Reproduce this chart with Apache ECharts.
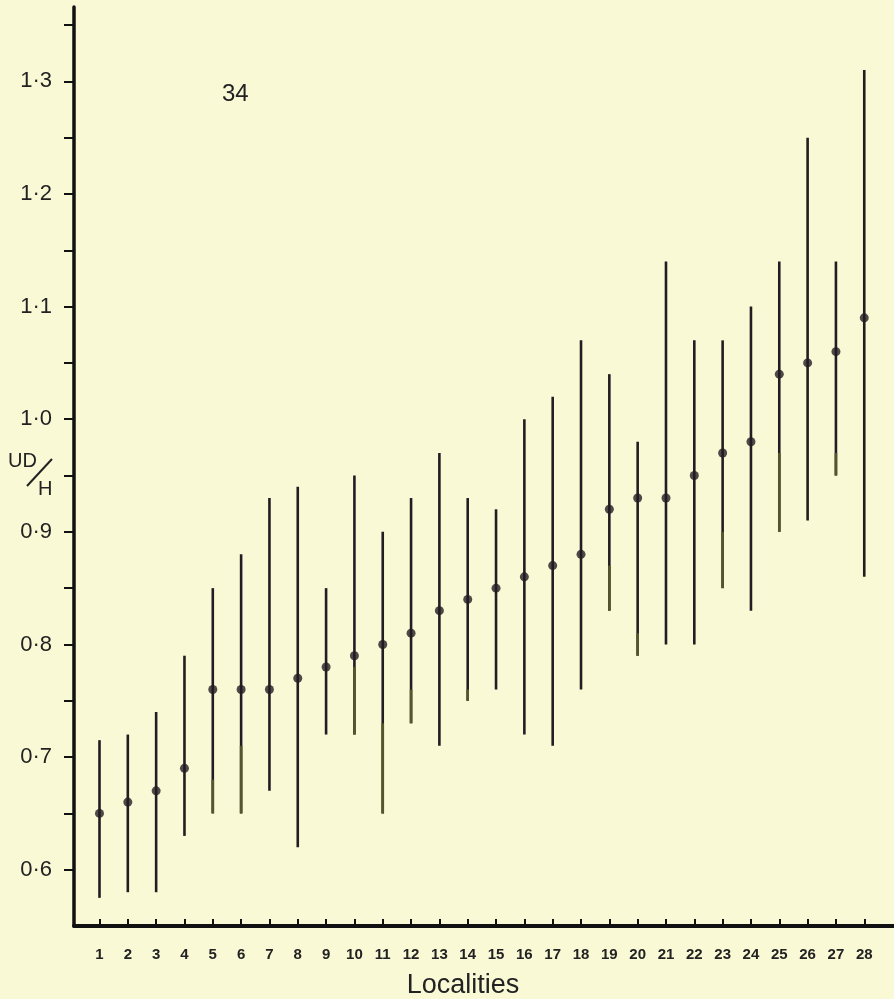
<!DOCTYPE html>
<html>
<head>
<meta charset="utf-8">
<script src="https://cdn.jsdelivr.net/npm/echarts@6/dist/echarts.min.js"></script>
<style>
html,body{margin:0;padding:0;background:#F9F9D6;}
#chart{width:894px;height:999px;}
</style>
</head>
<body>
<div id="chart"></div>
<script>
// ---- data ----
const localities = [1,2,3,4,5,6,7,8,9,10,11,12,13,14,15,16,17,18,19,20,21,22,23,24,25,26,27,28];
const means   = [0.65,0.66,0.67,0.69,0.76,0.76,0.76,0.77,0.78,0.79,0.80,0.81,0.83,0.84,0.85,0.86,0.87,0.88,0.92,0.93,0.93,0.95,0.97,0.98,1.04,1.05,1.06,1.09];
const maxima  = [0.715,0.72,0.74,0.79,0.85,0.88,0.93,0.94,0.85,0.95,0.90,0.93,0.97,0.93,0.92,1.00,1.02,1.07,1.04,0.98,1.14,1.07,1.07,1.10,1.14,1.25,1.14,1.31];
const minima  = [0.575,0.58,0.58,0.63,0.65,0.65,0.67,0.62,0.72,0.72,0.65,0.73,0.71,0.75,0.76,0.72,0.71,0.76,0.83,0.79,0.80,0.80,0.85,0.83,0.90,0.91,0.95,0.86];
// upper end of the faintly printed lower part of some range lines (null = none)
const fadeTop = [null,null,null,null,0.68,0.71,null,null,null,0.78,0.73,0.76,null,0.76,null,null,null,null,0.87,0.81,null,null,0.90,null,0.97,null,0.97,null];
const yTickValues  = [0.6,0.65,0.7,0.75,0.8,0.85,0.9,0.95,1.0,1.05,1.1,1.15,1.2,1.25,1.3,1.35];
const yLabelValues = [0.6,0.7,0.8,0.9,1.0,1.1,1.2,1.3];
const panelLabel = '34';
const xAxisTitle = 'Localities';

const rangeData = localities.map((l, i) => [l, minima[i], maxima[i], fadeTop[i] == null ? NaN : fadeTop[i]]);
const meanData = localities.map((l, i) => [l, means[i]]);

const INK = '#231c22';
const FADE = '#56562c';
const FONT = '"Liberation Sans", Arial, sans-serif';

const chart = echarts.init(document.getElementById('chart'), null, {renderer: 'canvas'});
chart.setOption({
  backgroundColor: '#F9F9D6',
  animation: false,
  grid: {left: 74, right: 0, top: 7, bottom: 73, containLabel: false, outerBoundsMode: 'none'},
  xAxis: {
    type: 'value',
    min: 0.1, max: 29.05,
    axisLine: {show: true, onZero: false, lineStyle: {color: '#111', width: 4}},
    axisTick: {show: true, inside: true, length: 7, customValues: localities, lineStyle: {color: '#111', width: 2}},
    axisLabel: {show: true, customValues: localities, margin: 21, fontFamily: FONT, fontSize: 15, fontWeight: 'bold', color: '#222', formatter: v => String(v)},
    splitLine: {show: false}
  },
  yAxis: {
    type: 'value',
    min: 0.55, max: 1.366,
    axisLine: {show: true, onZero: false, lineStyle: {color: '#111', width: 3.5}},
    axisTick: {show: true, inside: false, length: 10, customValues: yTickValues, lineStyle: {color: '#111', width: 2}},
    axisLabel: {show: true, customValues: yLabelValues, margin: 22, fontFamily: FONT, fontSize: 22, letterSpacing: 2, color: '#222',
      formatter: v => v.toFixed(1).replace('.', '·')},
    splitLine: {show: false}
  },
  graphic: [
    {type: 'text', x: 463, y: 986, style: {text: xAxisTitle, font: '27px ' + FONT, fill: '#222', align: 'center', verticalAlign: 'middle'}},
    {type: 'text', left: 222, top: 82, style: {text: panelLabel, font: '24px ' + FONT, fill: '#222'}},
    {type: 'text', left: 8, top: 451, style: {text: 'UD', font: '20px ' + FONT, fill: '#222'}},
    {type: 'line', shape: {x1: 27, y1: 486, x2: 52, y2: 459}, style: {stroke: '#222', lineWidth: 2}},
    {type: 'text', left: 38, top: 479, style: {text: 'H', font: '20px ' + FONT, fill: '#222'}}
  ],
  series: [
    {
      type: 'custom',
      data: rangeData,
      encode: {x: 0, y: [1, 2]},
      renderItem: function (params, api) {
        const x = api.value(0);
        const lo = api.coord([x, api.value(1)]);
        const hi = api.coord([x, api.value(2)]);
        const children = [{
          type: 'line',
          shape: {x1: lo[0], y1: lo[1], x2: hi[0], y2: hi[1]},
          style: {stroke: INK, lineWidth: 2.6}
        }];
        const f = api.value(3);
        if (!isNaN(f)) {
          const fp = api.coord([x, f]);
          children.push({
            type: 'line',
            shape: {x1: lo[0], y1: lo[1], x2: fp[0], y2: fp[1]},
            style: {stroke: FADE, lineWidth: 2.6}
          });
        }
        return {type: 'group', children: children};
      },
      z: 2
    },
    {
      type: 'scatter',
      data: meanData,
      symbol: 'circle',
      symbolSize: 9,
      itemStyle: {color: INK},
      z: 3
    }
  ]
});
</script>
</body>
</html>
